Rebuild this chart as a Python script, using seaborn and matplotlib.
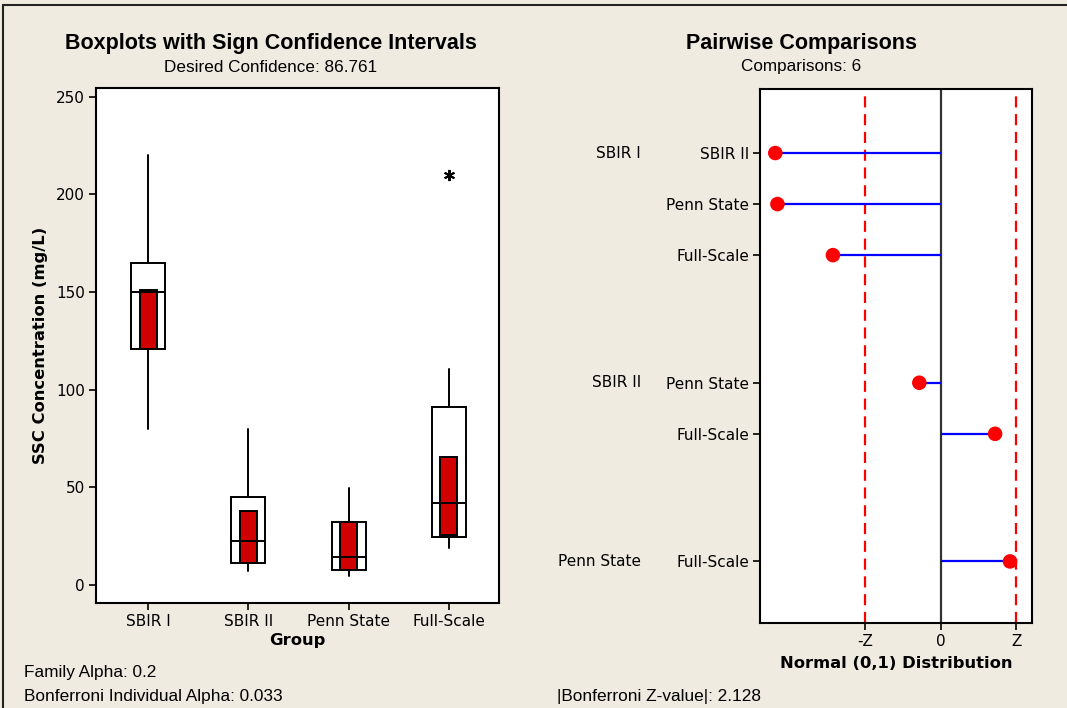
import matplotlib
matplotlib.use("Agg")
import matplotlib.pyplot as plt
import seaborn as sns
from matplotlib.lines import Line2D

# Boxplot summary per group (mg/L)
groups = ["SBIR I", "SBIR II", "Penn State", "Full-Scale"]
whisker_low = [80, 7, 4.6, 19]
q1 = [121, 11.3, 7.7, 24.7]
median = [150, 22.6, 14.4, 41.9]
q3 = [165, 44.8, 32.4, 91]
whisker_high = [220, 80, 49.4, 110.6]
outliers = [[], [], [], [210]]

# Sign confidence interval for the median
ci_low = [121, 11.3, 7.7, 25.7]
ci_high = [151, 38, 32.4, 65.4]

# Pairwise comparisons (z statistics)
pair_first = ["SBIR I", "SBIR I", "SBIR I", "SBIR II", "SBIR II", "Penn State"]
pair_second = ["SBIR II", "Penn State", "Full-Scale", "Penn State", "Full-Scale", "Full-Scale"]
z_stat = [-4.65, -4.59, -3.03, -0.60, 1.53, 1.95]
z_crit = 2.128

family_alpha = 0.2
indiv_alpha = 0.033
desired_conf = 86.761

BG = "#EFEBE1"

sns.set_theme(style="white")
plt.rcParams["font.family"] = ["DejaVu Sans"]
plt.rcParams["text.color"] = "black"
plt.rcParams["axes.labelcolor"] = "black"
plt.rcParams["xtick.color"] = "black"
plt.rcParams["ytick.color"] = "black"
plt.rcParams["xtick.major.size"] = 5
plt.rcParams["ytick.major.size"] = 5
plt.rcParams["xtick.major.width"] = 1.2
plt.rcParams["ytick.major.width"] = 1.2

fig = plt.figure(figsize=(10.67, 7.08), dpi=100, facecolor=BG)

# ---- left panel: boxplots ----
ax1 = fig.add_axes([96 / 1067, 1 - 603 / 708, 403 / 1067, 515 / 708])
stats = []
for g, wl, a, m, b, wh, f in zip(groups, whisker_low, q1, median, q3, whisker_high, outliers):
    stats.append(dict(label=g, whislo=wl, q1=a, med=m, q3=b, whishi=wh, fliers=f))

pos = list(range(len(groups)))
ax1.bxp(stats, positions=pos, widths=0.34, showcaps=False, patch_artist=True,
        boxprops=dict(facecolor="white", edgecolor="black", linewidth=1.4),
        medianprops=dict(color="black", linewidth=1.4, zorder=4),
        whiskerprops=dict(color="black", linewidth=1.4),
        flierprops=dict(marker=(6, 2, 0), markersize=8, markeredgecolor="black",
                        markeredgewidth=1.4))
ax1.bar(pos, [h - l for h, l in zip(ci_high, ci_low)], bottom=ci_low, width=0.17,
        color="#D00000", edgecolor="black", linewidth=1.4, zorder=3)

ax1.set_xlim(-0.52, 3.5)
ax1.set_ylim(-9.3, 254.4)
ax1.set_yticks([0, 50, 100, 150, 200, 250])
ax1.set_xticks(pos)
ax1.set_xticklabels(groups)
ax1.tick_params(axis="both", labelsize=11, direction="out", pad=3,
                bottom=True, left=True)
ax1.set_ylabel("SSC Concentration (mg/L)", fontsize=11.8, fontweight="bold", labelpad=6)
ax1.set_xlabel("Group", fontsize=11.8, fontweight="bold", labelpad=3)
for s in ax1.spines.values():
    s.set_color("black")
    s.set_linewidth(1.5)
ax1.set_facecolor("white")

# ---- right panel: pairwise comparisons ----
ax2 = fig.add_axes([760 / 1067, 1 - 622.7 / 708, 271.7 / 1067, 534 / 708])
rows = []
y = 0.0
for i, f in enumerate(pair_first):
    if i > 0:
        y += 1.0 if f == pair_first[i - 1] else 2.5
    rows.append(y)

ax2.axvline(0, color="#333333", lw=1.6, zorder=1)
for zc in (-z_crit, z_crit):
    ax2.axvline(zc, color="red", lw=1.6, ls=(0, (5, 3)), zorder=1)
ax2.hlines(rows, 0, z_stat, color="blue", lw=1.6, zorder=2)
sns.scatterplot(x=z_stat, y=rows, ax=ax2, color="red", s=110, edgecolor="none",
                zorder=3, legend=False)

ax2.set_xlim(-5.08, 2.56)
ax2.set_ylim(9.2, -1.26)
ax2.set_xticks([-z_crit, 0, z_crit])
ax2.set_xticklabels(["-Z", "0", "Z"])
ax2.set_yticks(rows)
ax2.set_yticklabels(pair_second)
ax2.tick_params(axis="both", labelsize=11, direction="out", pad=3,
                bottom=True, left=True)
ax2.set_xlabel("Normal (0,1) Distribution", fontsize=11.8, fontweight="bold", labelpad=5)
ax2.set_ylabel("")
for s in ax2.spines.values():
    s.set_color("black")
    s.set_linewidth(1.5)
ax2.set_facecolor("white")

# first member of each pair, shown once per group
ytrans = ax2.get_yaxis_transform()
for i, (f, r) in enumerate(zip(pair_first, rows)):
    if i == 0 or f != pair_first[i - 1]:
        ax2.text(-119 / 271.7, r, f, transform=ytrans, ha="right", va="center",
                 fontsize=11)

# ---- titles and notes ----
title_font = ["Liberation Sans", "DejaVu Sans"]
fig.text(271 / 1067, 1 - 44 / 708, "Boxplots with Sign Confidence Intervals",
         ha="center", va="center", fontsize=15.5, fontweight="bold", family=title_font)
fig.text(271 / 1067, 1 - 67 / 708, f"Desired Confidence: {desired_conf}",
         ha="center", va="center", fontsize=12.3, family=title_font)
fig.text(801 / 1067, 1 - 44 / 708, "Pairwise Comparisons",
         ha="center", va="center", fontsize=15.5, fontweight="bold", family=title_font)
fig.text(801 / 1067, 1 - 67 / 708, f"Comparisons: {len(z_stat)}",
         ha="center", va="center", fontsize=12.3, family=title_font)

fig.text(24 / 1067, 1 - 673 / 708, f"Family Alpha: {family_alpha}",
         ha="left", va="center", fontsize=12.4, family=title_font)
fig.text(24 / 1067, 1 - 696 / 708, f"Bonferroni Individual Alpha: {indiv_alpha}",
         ha="left", va="center", fontsize=12.4, family=title_font)
fig.text(557 / 1067, 1 - 696 / 708, f"|Bonferroni Z-value|: {z_crit}",
         ha="left", va="center", fontsize=12.4, family=title_font)

# outer frame of the graph window (top and left edges visible)
fig.add_artist(Line2D([3 / 1067, 3 / 1067], [0, 1 - 5 / 708], color="#222222",
                      lw=1.5, transform=fig.transFigure))
fig.add_artist(Line2D([3 / 1067, 1], [1 - 5 / 708, 1 - 5 / 708], color="#222222",
                      lw=1.5, transform=fig.transFigure))

fig.savefig("out.png", dpi=100, facecolor=BG)
